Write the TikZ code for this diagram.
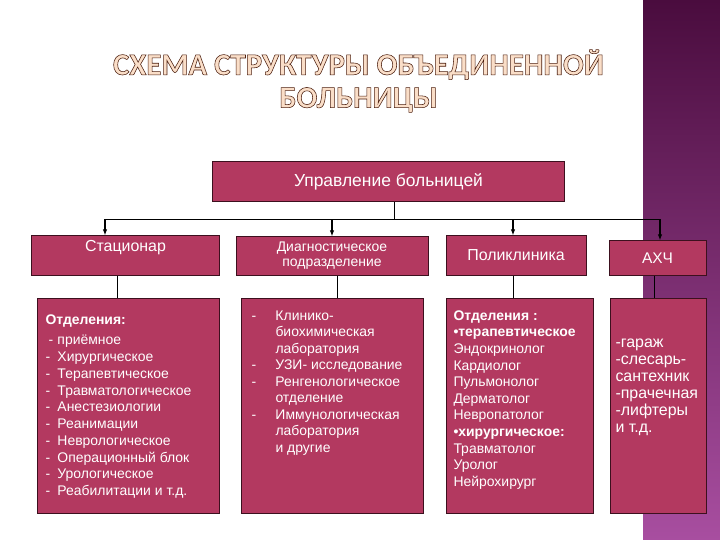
\documentclass[tikz,border=0pt]{standalone}
\usepackage{fontspec}
\setmainfont{Liberation Sans}
\newfontfamily\titlefont{Carlito}
\usetikzlibrary{arrows.meta,positioning}
\definecolor{rose}{RGB}{179,57,96}
\definecolor{edge}{RGB}{60,16,30}
\definecolor{peach}{RGB}{250,222,200}
\definecolor{plumtop}{RGB}{74,12,62}
\definecolor{plumbot}{RGB}{168,78,160}
\newcommand{\outl}[1]{\special{pdf:literal direct 0.30 0.12 0.06 RG 0.55 w 2 Tr}#1\special{pdf:literal direct 0 Tr}}
\newcommand{\itm}[2][12bp]{\leavevmode\llap{\makebox[#1][l]{-}}#2}
\newcommand{\lst}[4]{\parbox[t][215bp][t]{#1}{\raggedright\leftskip=#2\vspace*{#3}\strut#4}}

\begin{document}
\begin{tikzpicture}[x=1bp,y=-1bp,
box/.style={draw=edge,fill=rose,text=white,line width=1bp,inner sep=0},
arr/.style={-{Latex[length=2.2mm,width=1.6mm]},line width=1.1bp},
link/.style={line width=1bp}]
\useasboundingbox (0,0) rectangle (720,540);
\fill[white] (0,0) rectangle (720,540);
\shade[top color=plumtop,bottom color=plumbot] (643,0) rectangle (720,540);
\node[text=peach,align=center,font=\titlefont\bfseries\fontsize{31}{33}\selectfont] (title) at (358.5,81) {\outl{СХЕМА СТРУКТУРЫ ОБЪЕДИНЕННОЙ}\\\outl{БОЛЬНИЦЫ}};
\node[box,minimum width=352bp,minimum height=40bp,font=\fontsize{17.5}{20}\selectfont] (head) at (388.5,182) {Управление больницей};
\node[box,minimum width=187bp,minimum height=39bp,font=\fontsize{16}{18}\selectfont] (stat) at (125.5,255.5) {\raisebox{8bp}[\height][\depth]{Стационар}};
\node[box,minimum width=192bp,minimum height=38bp,align=center,font=\fontsize{14}{15}\selectfont] (diag) at (332,256) {Диагностическое\\подразделение};
\node[box,minimum width=140bp,minimum height=39bp,font=\fontsize{16}{18}\selectfont] (poli) at (516,255.5) {Поликлиника};
\node[box,minimum width=97bp,minimum height=34bp,font=\fontsize{15.5}{18}\selectfont] (ahch) at (657.5,258) {АХЧ};
\node[box,anchor=north west,font=\fontsize{14}{16.8}\selectfont] (statl) at (37,298) {\lst{182bp}{20bp}{14bp}{\hspace*{-12bp}\textbf{Отделения:}\\[4bp]
\itm[9bp]{приёмное}\\ \itm{Хирургическое}\\ \itm{Терапевтическое}\\ \itm{Травматологическое}\\ \itm{Анестезиологии}\\ \itm{Реанимации}\\ \itm{Неврологическое}\\ \itm{Операционный блок}\\ \itm{Урологическое}\\ \itm{Реабилитации и т.д.}}};
\node[box,anchor=north west,font=\fontsize{14}{16.6}\selectfont] (diagl) at (241,298) {\lst{182bp}{34bp}{10bp}{\itm[24bp]{Клинико-}\\ биохимическая\\ лаборатория\\ \itm[24bp]{УЗИ- исследование}\\ \itm[24bp]{Ренгенологическое}\\ отделение\\ \itm[24bp]{Иммунологическая}\\ лаборатория\\ и другие}};
\node[box,anchor=north west,font=\fontsize{14}{16.7}\selectfont] (polil) at (446,298) {\lst{147bp}{7bp}{10bp}{\textbf{Отделения :}\\ \textbf{•терапевтическое}\\ Эндокринолог\\ Кардиолог\\ Пульмонолог\\ Дерматолог\\ Невропатолог\\ \textbf{•хирургическое:}\\ Травматолог\\ Уролог\\ Нейрохирург}};
\node[box,anchor=north west,font=\fontsize{16}{17}\selectfont] (ahchl) at (610,298) {\lst{96bp}{5bp}{37bp}{-гараж\\ -слесарь-\\ сантехник\\ -прачечная\\ -лифтеры\\ и т.д.}};
\draw[link] ([xshift=5.5bp]head.south) -- ++(0,17) coordinate (bus);
\draw[arr] (bus) -| ([xshift=-20.5bp]stat.north);
\draw[arr] (bus) -| (diag.north);
\draw[arr] (bus) -| ([xshift=-3bp]poli.north);
\draw[arr] (bus) -| ([xshift=2.5bp]ahch.north);
\draw[link] ([xshift=-8.5bp]stat.south) -- ([xshift=-8.5bp]stat.south |- statl.north);
\draw[link] ([xshift=5bp]diag.south) -- ([xshift=5bp]diag.south |- diagl.north);
\draw[link] ([xshift=-3bp]poli.south) -- ([xshift=-3bp]poli.south |- polil.north);
\draw[link] ([xshift=-3.5bp]ahch.south) -- ([xshift=-3.5bp]ahch.south |- ahchl.north);
\end{tikzpicture}
\end{document}
